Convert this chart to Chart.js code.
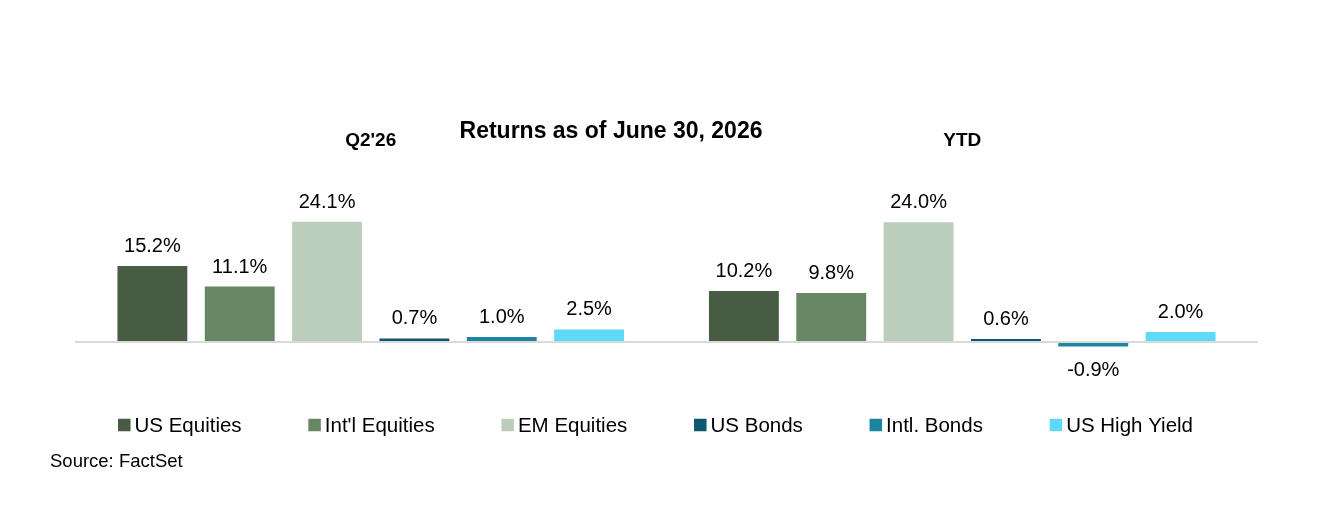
<!DOCTYPE html>
<html>
<head>
<meta charset="utf-8">
<script src="https://cdn.jsdelivr.net/npm/chart.js@4.4.1/dist/chart.umd.min.js"></script>
<style>
  html, body { margin: 0; padding: 0; background: #fff; }
  #wrap { width: 1342px; height: 516px; }
</style>
</head>
<body>
<div id="wrap"><canvas id="returns" width="1342" height="516"></canvas></div>
<script>
"use strict";
// chart data
var categories = ["Q2'26", "YTD"];
var seriesNames = ["US Equities", "Int'l Equities", "EM Equities", "US Bonds", "Intl. Bonds", "US High Yield"];
var usEquities = [15.2, 10.2];
var intlEquities = [11.1, 9.8];
var emEquities = [24.1, 24.0];
var usBonds = [0.7, 0.6];
var intlBonds = [1.0, -0.9];
var usHighYield = [2.5, 2.0];
var seriesColors = ['#475c43', '#678764', '#bbcebb', '#0e5770', '#1b84a0', '#5fd9f8'];

var fontFamily = '"Liberation Sans", Arial, sans-serif';

// value labels over / under each bar
var valueLabels = {
    id: 'valueLabels',
    afterDatasetsDraw: function(chart) {
        var c = chart.ctx;
        c.save();
        c.font = '20px ' + fontFamily;
        c.fillStyle = '#000';
        c.textAlign = 'center';
        c.textBaseline = 'alphabetic';
        chart.data.datasets.forEach(function(ds, i) {
            var meta = chart.getDatasetMeta(i);
            meta.data.forEach(function(bar, j) {
                var v = ds.data[j];
                var txt = v.toFixed(1) + '%';
                if (v >= 0) {
                    c.fillText(txt, bar.x, bar.y - 14);
                } else {
                    c.fillText(txt, bar.x, bar.y + 30);
                }
            });
        });
        c.restore();
    }
};

// title, legend row and source note
var extras = {
    id: 'extras',
    afterDraw: function(chart) {
        var c = chart.ctx;
        c.save();
        c.fillStyle = '#000';
        c.textBaseline = 'middle';

        c.font = 'bold 23px ' + fontFamily;
        c.textAlign = 'center';
        c.fillText('Returns as of June 30, 2026', 611, 132);

        // legend, spread from x=118 to x=1193
        c.font = '20.5px ' + fontFamily;
        c.textAlign = 'left';
        var box = 12.5, gap = 4, left = 118, right = 1193;
        var widths = chart.data.datasets.map(function(ds) { return c.measureText(ds.label).width; });
        var used = 0;
        widths.forEach(function(w) { used += box + gap + w; });
        var spacing = (right - left - used) / (widths.length - 1);
        var x = left;
        var y = 426;
        chart.data.datasets.forEach(function(ds, i) {
            c.fillStyle = ds.backgroundColor;
            c.fillRect(x, y - box / 2 - 1, box, box);
            c.fillStyle = '#000';
            c.fillText(ds.label, x + box + gap, y);
            x += box + gap + widths[i] + spacing;
        });

        c.font = '18.5px ' + fontFamily;
        c.fillText('Source: FactSet', 50, 462);
        c.restore();
    }
};

var seriesData = [usEquities, intlEquities, emEquities, usBonds, intlBonds, usHighYield];
var datasets = seriesNames.map(function(name, i) {
    return {
        label: name,
        data: seriesData[i],
        backgroundColor: seriesColors[i],
        borderWidth: 0,
        categoryPercentage: 0.886,
        barPercentage: 0.8
    };
});

var ctx = document.getElementById('returns');
var chart = new Chart(ctx, {
    type: 'bar',
    data: { labels: categories, datasets: datasets },
    plugins: [valueLabels, extras],
    options: {
        responsive: false,
        animation: false,
        devicePixelRatio: 1,
        layout: { padding: { left: 75, right: 84, top: 118, bottom: 144.5 } },
        plugins: {
            legend: { display: false },
            title: { display: false },
            tooltip: { enabled: false }
        },
        scales: {
            x: {
                position: 'top',
                grid: { display: false },
                border: { display: false },
                ticks: {
                    color: '#000',
                    padding: 11,
                    font: { family: fontFamily, size: 19, weight: 'bold' }
                }
            },
            y: {
                min: -5.92,
                max: 34.3,
                border: { display: false },
                ticks: { display: false },
                grid: {
                    drawTicks: false,
                    lineWidth: 2,
                    color: function(c) { return c.tick && c.tick.value === 0 ? '#d9d9d9' : 'rgba(0,0,0,0)'; }
                }
            }
        }
    }
});
</script>
</body>
</html>
